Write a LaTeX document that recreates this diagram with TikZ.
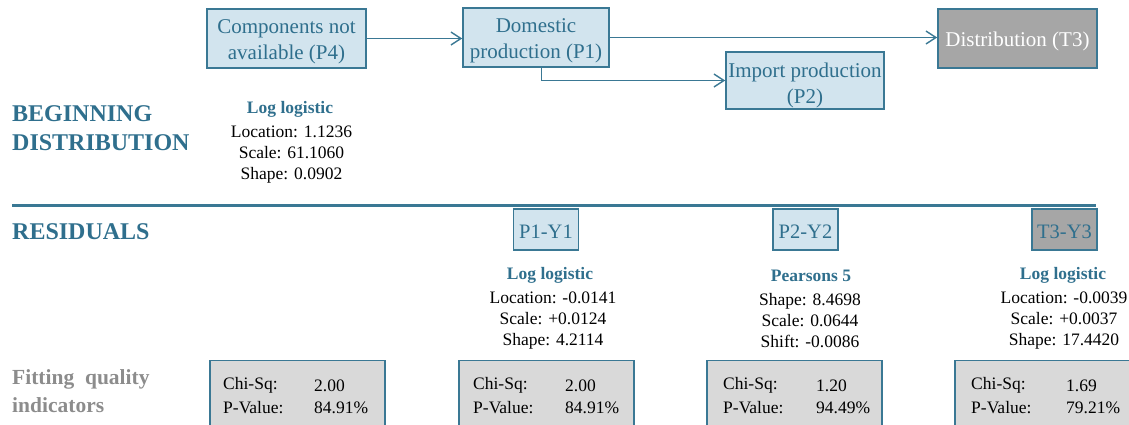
\documentclass[tikz,border=0pt]{standalone}
\usepackage{fontspec}
\setmainfont{Liberation Serif}
\usetikzlibrary{arrows.meta}
\definecolor{tblue}{HTML}{2F6F8D}
\definecolor{bord}{HTML}{3A7894}
\definecolor{lfill}{HTML}{D2E4EE}
\definecolor{dgray}{HTML}{A6A6A6}
\definecolor{lgray}{HTML}{D9D9D9}
\definecolor{ttgray}{HTML}{8C8C8C}
\tikzset{
  topbox/.style={draw=bord, line width=1.6pt, fill=lfill, inner sep=0pt},
  graybox/.style={topbox, fill=dgray},
  boxtext/.style={text=tblue, inner sep=0pt, align=center, font=\fontsize{21}{26}\selectfont},
  resbox/.style={draw=bord, line width=1.6pt, fill=lfill, inner sep=0pt,
    minimum width=65pt, minimum height=41pt},
  restext/.style={text=tblue, inner sep=0pt, font=\fontsize{20.5}{24}\selectfont},
  fitbox/.style={draw=bord, line width=1.6pt, fill=lgray, inner sep=0pt, anchor=north west,
    minimum width=175pt, minimum height=80pt},
  arr/.style={draw=bord, line width=1.5pt, -{Straight Barb[length=10pt,width=13pt,line width=1.4pt]}},
  heading/.style={anchor=west, inner sep=0pt, align=left, text=tblue,
    font=\fontsize{24}{28.4}\selectfont\bfseries},
  grayhead/.style={anchor=west, inner sep=0pt, align=left, text=ttgray,
    font=\fontsize{21.5}{28}\selectfont\bfseries},
  distname/.style={inner sep=0pt, text=tblue, font=\fontsize{17.5}{21}\selectfont\bfseries},
  params/.style={inner sep=0pt, align=center, font=\fontsize{17.5}{21}\selectfont},
  val/.style={inner sep=0pt, anchor=west, font=\fontsize{17.5}{21}\selectfont},
}
\begin{document}
\begin{tikzpicture}[x=1pt,y=-1pt]
\useasboundingbox (0,0) rectangle (1129,424);
\clip (0,0) rectangle (1129,424);

% top flow
\node[topbox, minimum width=159pt, minimum height=59pt] (P4) at (286.5,38.5) {};
\node[topbox, minimum width=146pt, minimum height=59pt] (P1) at (536,37.5) {};
\node[graybox, minimum width=159pt, minimum height=59pt] (T3) at (1017.5,38.5) {};
\node[topbox, minimum width=158pt, minimum height=57.5pt] (P2) at (805,80.5) {};
\node[boxtext] (P4t) at ([yshift=-3.5pt]P4.center) {Components not\\available (P4)};
\node[boxtext] (P1t) at ([yshift=-3.5pt]P1.center) {Domestic\\production (P1)};
\node[boxtext, text=white] (T3t) at ([yshift=-3pt]T3.center) {Distribution (T3)};
\node[boxtext] (P2t) at ([yshift=-4.5pt]P2.center) {Import production\\(P2)};

\draw[arr] (P4.east) -- (P4.east -| P1.west);
\draw[arr] (P1.east) -- (P1.east -| T3.west);
\draw[arr] ([xshift=5.7pt]P1.south) |- (P2.west);

% beginning distribution
\node[heading] (hb) at (12,128) {BEGINNING\\DISTRIBUTION};
\node[distname] (d0) at (290,109.5) {Log logistic};
\node[params] (p0) at (291.5,155) {Location: 1.1236\\Scale: 61.1060\\Shape: 0.0902};

% separator
\coordinate (sl) at (12,205.7);
\coordinate (sr) at (1096,205.7);
\draw[draw=bord, line width=2.8pt] (sl) -- (sr);

% residuals
\node[heading] (hr) at (12,231.5) {RESIDUALS};
\node[resbox] (R1) at (546,229.5) {};
\node[resbox] (R2) at (805.5,229.5) {};
\node[resbox, fill=dgray] (R3) at (1064.5,229.5) {};
\node[restext] (R1t) at ([yshift=-2pt]R1.center) {P1-Y1};
\node[restext] (R2t) at ([yshift=-2pt]R2.center) {P2-Y2};
\node[restext] (R3t) at ([yshift=-2pt]R3.center) {T3-Y3};

\node[distname] (d1) at (550,275.5) {Log logistic};
\node[params] (p1) at (553,320.5) {Location: -0.0141\\Scale: +0.0124\\Shape: 4.2114};
\node[distname] (d2) at (811,275.5) {Pearsons 5};
\node[params] (p2) at (810,320.5) {Shape: 8.4698\\Scale: 0.0644\\Shift: -0.0086};
\node[distname] (d3) at (1063,275.5) {Log logistic};
\node[params] (p3) at (1064,320.5) {Location: -0.0039\\Scale: +0.0037\\Shape: 17.4420};

% fitting quality
\node[grayhead] (hf) at (12,391) {Fitting\ \ quality\\indicators};

\node[fitbox] (F1) at (209,359.5) {};
\node[fitbox] (F2) at (458,359.5) {};
\node[fitbox] (F3) at (706,359.5) {};
\node[fitbox] (F4) at (954,359.5) {};

\node[val] (c1) at (223,385.5) {Chi-Sq:};
\node[val] (v1) at (314,385.5) {2.00};
\node[val] (q1) at (223,408) {P-Value:};
\node[val] (w1) at (314,408) {84.91\%};

\node[val] (c2) at (473,385.5) {Chi-Sq:};
\node[val] (v2) at (565,385.5) {2.00};
\node[val] (q2) at (473,408) {P-Value:};
\node[val] (w2) at (565,408) {84.91\%};

\node[val] (c3) at (723,385.5) {Chi-Sq:};
\node[val] (v3) at (816,385.5) {1.20};
\node[val] (q3) at (723,408) {P-Value:};
\node[val] (w3) at (816,408) {94.49\%};

\node[val] (c4) at (971,385.5) {Chi-Sq:};
\node[val] (v4) at (1066,385.5) {1.69};
\node[val] (q4) at (971,408) {P-Value:};
\node[val] (w4) at (1066,408) {79.21\%};
\end{tikzpicture}
\end{document}
